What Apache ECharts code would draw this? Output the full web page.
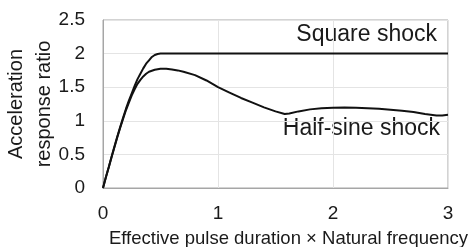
<!DOCTYPE html>
<html>
<head>
<meta charset="utf-8">
<script src="https://cdn.jsdelivr.net/npm/echarts@6/dist/echarts.min.js"></script>
<style>html,body{margin:0;padding:0;background:#fff;}#c{width:469px;height:247px;}</style>
</head>
<body>
<div id="c"></div>
<script>
// Effective pulse duration x natural frequency
var squareX = [0, 0.025, 0.05, 0.075, 0.1, 0.125, 0.15, 0.175, 0.2, 0.225, 0.25, 0.275, 0.3, 0.325, 0.35, 0.375, 0.4, 0.425, 0.45, 0.475, 0.5, 3];
var squareY = [0, 0.16, 0.31, 0.47, 0.62, 0.77, 0.91, 1.05, 1.18, 1.30, 1.41, 1.52, 1.62, 1.70, 1.78, 1.85, 1.90, 1.95, 1.98, 1.995, 2.0, 2.0];
var halfSineX = [0, 0.025, 0.05, 0.075, 0.1, 0.125, 0.15, 0.175, 0.2, 0.225, 0.25, 0.275, 0.3, 0.325, 0.35, 0.375, 0.4, 0.45, 0.5, 0.55, 0.6, 0.65, 0.7, 0.8, 0.9, 1.0, 1.1, 1.2, 1.3, 1.4, 1.5, 1.58, 1.62, 1.7, 1.8, 1.9, 2.0, 2.1, 2.2, 2.3, 2.4, 2.5, 2.6, 2.7, 2.8, 2.9, 2.95, 3.0];
var halfSineY = [0, 0.16, 0.31, 0.46, 0.61, 0.76, 0.90, 1.03, 1.16, 1.27, 1.38, 1.47, 1.55, 1.61, 1.66, 1.70, 1.73, 1.76, 1.775, 1.775, 1.765, 1.75, 1.73, 1.68, 1.60, 1.50, 1.42, 1.34, 1.27, 1.20, 1.14, 1.10, 1.11, 1.14, 1.17, 1.185, 1.195, 1.198, 1.195, 1.188, 1.178, 1.165, 1.15, 1.13, 1.10, 1.08, 1.08, 1.09];
var xTicks = [0, 1, 2, 3];
var yTicks = [0, 0.5, 1, 1.5, 2, 2.5];
var xTitle = 'Effective pulse duration \u00d7 Natural frequency';
var yTitle = 'Acceleration\nresponse ratio';
var labelSquare = 'Square shock';
var labelHalfSine = 'Half-sine shock';

function pairs(xs, ys) { return xs.map(function (x, i) { return [x, ys[i]]; }); }

var FONT = '"Liberation Sans", Arial, sans-serif';
var chart = echarts.init(document.getElementById('c'), null, { renderer: 'canvas' });
chart.setOption({
  animation: false,
  backgroundColor: '#ffffff',
  grid: { left: 103, right: 21, top: 20, bottom: 59, containLabel: false, outerBoundsMode: 'none', show: true, borderColor: '#a6a6a6', borderWidth: 1, backgroundColor: 'transparent' },
  xAxis: {
    type: 'value', min: xTicks[0], max: xTicks[xTicks.length - 1], interval: 1,
    axisLine: { show: true, lineStyle: { color: '#a6a6a6', width: 1 } },
    axisTick: { show: false },
    splitLine: { show: true, lineStyle: { color: '#e4e4e4', width: 1 } },
    axisLabel: { fontSize: 19, color: '#1a1a1a', fontFamily: FONT, margin: 16 },
    name: xTitle, nameLocation: 'middle', nameGap: 41, nameMoveOverlap: false,
    nameTextStyle: { fontSize: 18.5, color: '#1a1a1a', fontFamily: FONT, padding: [0, 0, 0, 26] }
  },
  yAxis: {
    type: 'value', min: yTicks[0], max: yTicks[yTicks.length - 1], interval: 0.5,
    axisLine: { show: true, lineStyle: { color: '#a6a6a6', width: 1 } },
    axisTick: { show: false },
    splitLine: { show: true, lineStyle: { color: '#e4e4e4', width: 1 } },
    axisLabel: { fontSize: 19, color: '#1a1a1a', fontFamily: FONT, margin: 18 },
    name: yTitle, nameLocation: 'middle', nameGap: 45, nameRotate: 90, nameMoveOverlap: false,
    nameTextStyle: { fontSize: 20, lineHeight: 28, color: '#1a1a1a', fontFamily: FONT }
  },
  graphic: [
    { type: 'text', x: 437, y: 35, style: { text: labelSquare, textAlign: 'right', textVerticalAlign: 'middle', fontSize: 23, fontFamily: FONT, fill: '#1a1a1a' } },
    { type: 'text', x: 440, y: 129, style: { text: labelHalfSine, textAlign: 'right', textVerticalAlign: 'middle', fontSize: 23, fontFamily: FONT, fill: '#1a1a1a' } }
  ],
  series: [
    { type: 'line', data: pairs(squareX, squareY), showSymbol: false, symbol: 'none', lineStyle: { color: '#111', width: 2 }, smooth: false },
    { type: 'line', data: pairs(halfSineX, halfSineY), showSymbol: false, symbol: 'none', lineStyle: { color: '#111', width: 2 }, smooth: false }
  ]
});
</script>
</body>
</html>
